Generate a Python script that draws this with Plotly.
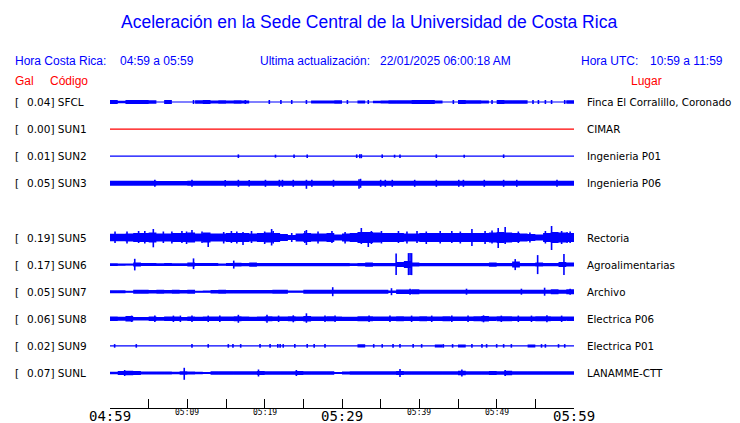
import plotly.graph_objects as go

# ---------------- data ----------------
TITLE = "Aceleración en la Sede Central de la Universidad de Costa Rica"
HDR_CR_LABEL = "Hora Costa Rica:"
HDR_CR_VALUE = "04:59 a 05:59"
HDR_UPD_LABEL = "Ultima actualización:"
HDR_UPD_VALUE = "22/01/2025 06:00:18 AM"
HDR_UTC_LABEL = "Hora UTC:"
HDR_UTC_VALUE = "10:59 a 11:59"
COL_GAL = "Gal"
COL_CODE = "Código"
COL_PLACE = "Lugar"

CODES = ["SFCL", "SUN1", "SUN2", "SUN3", "SUN5", "SUN6", "SUN7", "SUN8", "SUN9", "SUNL"]
ROWS = [0, 1, 2, 3, 5, 6, 7, 8, 9, 10]
GAL = ["0.04", "0.00", "0.01", "0.05", "0.19", "0.17", "0.05", "0.06", "0.02", "0.07"]
PLACES = ["Finca El Corralillo, Coronado", "CIMAR", "Ingenieria P01", "Ingenieria P06",
          "Rectoria", "Agroalimentarias", "Archivo", "Electrica P06", "Electrica P01",
          "LANAMME-CTT"]
TRACE_COLORS = ["#0000ff", "#ff0000", "#0000ff", "#0000ff", "#0000ff", "#0000ff",
                "#0000ff", "#0000ff", "#0000ff", "#0000ff"]

# minutes after 04:59
TICK_MIN = [0, 5, 10, 15, 20, 25, 30, 35, 40, 45, 50, 55, 60]
BIG_LABEL_MIN = [0, 30, 60]
BIG_LABELS = ["04:59", "05:29", "05:59"]
SMALL_LABEL_MIN = [10, 20, 40, 50]
SMALL_LABELS = ["05:09", "05:19", "05:39", "05:49"]

# envelope half-amplitude per 1-minute bin (screen pixels)
SFCL_ENV = [1.5, 0.8, 1.5, 1.5, 1.5, 1.2, 0, 1.5, 0, 0,
            0, 1.2, 1.5, 1.0, 1.2, 1.0, 1.2, 1.0, 0, 0,
            0, 0, 0, 0, 0, 0, 1.0, 1.0, 1.0, 1.2,
            0, 0, 1.0, 0, 0.8, 1.0, 1.2, 1.2, 1.2, 1.5,
            1.5, 1.5, 1.0, 0, 0, 1.5, 1.2, 1.2, 1.0, 0,
            1.5, 1.2, 1.2, 1.2, 0, 0, 0, 0, 0, 1.2]
SUN1_ENV = [0, 0, 0, 0, 0, 0, 0, 0, 0, 0,
            0, 0, 0, 0, 0, 0, 0, 0, 0, 0,
            0, 0, 0, 0, 0, 0, 0, 0, 0, 0,
            0, 0, 0, 0, 0, 0, 0, 0, 0, 0,
            0, 0, 0, 0, 0, 0, 0, 0, 0, 0,
            0, 0, 0, 0, 0, 0, 0, 0, 0, 0]
SUN2_ENV = [0, 0, 0, 0, 0, 0, 0, 0, 0, 0,
            0, 0, 0, 0, 0, 0, 0, 0, 0, 0,
            0, 0, 0, 0, 0, 0, 0, 0, 0, 0,
            0, 0, 0, 0, 0, 0, 0, 0, 0, 0,
            0, 0, 0, 0, 0, 0, 0, 0, 0, 0,
            0, 0, 0, 0, 0, 0, 0, 0, 0, 0]
SUN3_ENV = [2.0, 2.0, 2.0, 2.0, 2.0, 2.0, 1.7, 1.7, 1.7, 1.7,
            2.0, 2.0, 2.0, 2.0, 2.0, 2.0, 2.0, 2.0, 2.0, 2.0,
            2.0, 2.0, 2.0, 2.0, 2.0, 2.0, 2.0, 2.0, 2.0, 2.0,
            2.0, 2.0, 2.0, 2.0, 2.0, 2.0, 2.0, 2.0, 2.0, 2.0,
            2.0, 2.0, 2.0, 2.0, 2.0, 2.0, 2.0, 2.0, 2.0, 2.0,
            2.0, 2.0, 2.0, 2.0, 2.0, 2.0, 2.0, 2.0, 2.0, 2.0]
SUN5_ENV = [3.3, 3.3, 3.5, 4.0, 4.0, 4.5, 3.5, 3.5, 4.0, 4.0,
            4.5, 3.5, 4.5, 3.5, 3.5, 4.0, 4.0, 4.0, 3.5, 4.0,
            4.5, 4.0, 3.0, 2.0, 3.5, 4.0, 3.5, 3.5, 4.0, 2.5,
            3.5, 4.0, 5.0, 5.0, 4.5, 4.0, 4.0, 4.0, 3.5, 3.5,
            4.0, 4.0, 4.0, 4.0, 4.0, 4.0, 4.0, 4.0, 4.0, 4.5,
            5.0, 4.5, 4.0, 3.5, 3.0, 2.5, 4.0, 5.0, 4.5, 4.0]
SUN6_ENV = [0.8, 0.6, 0.5, 1.5, 1.0, 1.0, 0.8, 1.0, 0.8, 0.8,
            1.5, 1.0, 1.0, 1.0, 0.6, 1.0, 1.3, 1.2, 1.6, 1.2,
            1.2, 1.2, 1.2, 1.2, 1.2, 1.2, 1.2, 1.2, 1.2, 1.2,
            1.2, 0.8, 1.2, 1.6, 1.2, 1.2, 1.2, 2.0, 3.0, 1.5,
            1.2, 1.2, 1.2, 1.2, 1.2, 1.2, 1.2, 1.2, 1.2, 1.6,
            1.2, 1.2, 2.5, 1.2, 1.2, 1.5, 1.2, 1.2, 2.0, 1.5]
SUN7_ENV = [1.0, 1.0, 0.5, 1.5, 1.5, 1.2, 1.5, 1.2, 1.5, 1.2,
            1.5, 0.5, 0.6, 1.2, 1.5, 1.2, 1.2, 1.3, 1.2, 1.2,
            1.2, 1.5, 1.5, 0.6, 0.6, 1.5, 1.5, 1.5, 1.5, 1.5,
            1.5, 1.5, 1.5, 1.5, 1.5, 1.5, 0.8, 1.8, 1.8, 2.0,
            1.5, 1.5, 1.5, 1.5, 1.5, 1.5, 1.5, 1.5, 1.5, 1.5,
            1.5, 1.5, 1.5, 1.5, 1.5, 1.5, 1.5, 2.0, 1.5, 2.0]
SUN8_ENV = [1.7, 1.5, 2.2, 1.3, 1.3, 1.8, 1.4, 1.7, 1.8, 1.4,
            1.8, 1.6, 1.8, 1.7, 1.8, 1.7, 2.0, 1.8, 1.6, 1.8,
            2.0, 1.7, 1.8, 2.0, 1.8, 2.2, 1.7, 1.8, 2.0, 1.8,
            1.6, 1.6, 2.0, 2.0, 1.8, 1.8, 1.8, 2.0, 1.8, 1.8,
            2.0, 1.8, 1.8, 2.0, 1.8, 1.8, 1.8, 2.0, 2.2, 1.8,
            2.0, 2.0, 1.8, 1.8, 1.8, 2.0, 2.0, 1.8, 1.8, 1.8]
SUN9_ENV = [0, 0, 0, 0, 0, 0, 0, 0, 0, 0,
            0, 0, 0, 0, 0, 0, 0, 0, 0, 0,
            0, 0, 0, 0, 0, 0, 0, 0, 0, 0,
            0, 0, 1.2, 0, 0, 0, 0, 0, 0, 0,
            0, 0, 1.0, 0, 0, 1.0, 0, 0, 0, 0,
            0, 0, 0, 0, 1.0, 0, 0, 0, 0, 0]
SUNL_ENV = [0.8, 1.5, 1.7, 1.5, 1.0, 1.0, 1.0, 1.0, 0.8, 1.2,
            1.0, 0.8, 0.5, 1.3, 1.3, 1.3, 1.3, 1.3, 1.3, 1.5,
            1.3, 1.3, 1.3, 1.3, 1.6, 1.3, 1.3, 1.3, 1.3, 0.6,
            1.0, 1.2, 1.3, 1.2, 1.3, 1.2, 1.3, 1.6, 1.3, 1.3,
            1.3, 1.3, 1.3, 1.3, 1.3, 1.8, 1.3, 1.3, 1.3, 1.6,
            1.3, 1.8, 1.3, 1.3, 1.3, 1.3, 1.3, 1.3, 1.3, 1.3]

# spikes: (minute, up px, down px)
SFCL_SPK = [(10.8, 1.5, 1.5), (17.5, 1.5, 1.5), (20.6, 1.5, 1.5), (22.1, 1.5, 1.5),
            (23.5, 1.5, 1.5), (25.4, 1.5, 1.5), (30.7, 1.5, 1.5), (33.4, 1.5, 1.5),
            (44.4, 1.5, 1.5), (49.4, 1.5, 1.5), (54.7, 1.5, 1.5), (55.4, 1.5, 1.5),
            (56.3, 1.5, 1.5), (57.1, 1.5, 1.5), (58.8, 1.5, 1.5)]
SUN1_SPK = []
SUN2_SPK = [(16.6, 1.3, 1.3), (21.4, 1.0, 1.0), (23.8, 1.3, 1.3), (25.5, 1.3, 1.3),
            (31.9, 1.3, 1.3), (32.3, 1.5, 1.5), (32.5, 1.5, 1.5), (35.2, 1.3, 1.3),
            (36.8, 1.0, 1.0), (37.5, 1.3, 1.3), (42.2, 1.3, 1.3), (45.8, 1.0, 1.0),
            (50.9, 1.3, 1.3)]
SUN3_SPK = [(5.8, 3, 3), (10.6, 3, 3), (14.9, 2.8, 2.8), (16.6, 3, 3), (18.0, 2.8, 2.8),
            (20.1, 3, 3), (21.9, 3, 3), (22.3, 3, 3), (23.7, 3, 3), (25.4, 3, 5),
            (26.1, 3, 3), (28.9, 3, 3), (32.2, 3.5, 5), (32.4, 4, 4), (35.0, 3, 3),
            (35.6, 3, 3), (36.5, 3, 3), (39.4, 3, 3), (42.2, 3, 3), (45.1, 3, 3),
            (45.7, 3, 3), (48.4, 3, 3), (50.9, 3, 3), (52.6, 3, 3), (57.8, 3, 3)]
SUN5_SPK = [(5.6, 8, 9.3), (10.6, 7, 4), (12.7, 4, 9), (17.2, 5, 7), (20.9, 8, 7.5),
            (25.4, 7, 7), (32.5, 9, 6), (33.4, 4, 9), (46.8, 8, 8), (50.2, 9, 10),
            (51.1, 10, 6), (57.1, 11, 12), (59.1, 5, 5),
            (0.65, 5.5, 5), (2.2, 5.5, 5.5), (3.7, 6, 5), (4.5, 6, 5.5), (6.9, 5.5, 5),
            (8.0, 5.5, 5.5), (9.3, 6, 5), (9.9, 5.5, 6), (11.9, 5.5, 5), (14.7, 5, 5.5),
            (15.7, 6, 5), (16.4, 5.5, 5.5), (18.3, 6, 5), (20.0, 5.5, 6), (21.1, 6, 5.5),
            (23.5, 4, 4), (25.2, 6, 5), (26.9, 5.5, 5.5), (28.7, 6, 5), (30.4, 5, 5.5),
            (33.8, 6, 6), (35.1, 6, 5.5), (37.3, 6, 5), (38.4, 5.5, 5.5), (39.7, 6, 5),
            (40.9, 5.5, 6), (42.7, 6, 5.5), (44.2, 6, 5), (45.3, 5.5, 5.5), (48.5, 6, 6),
            (49.4, 6.5, 5.5), (52.8, 5.5, 5), (54.3, 4.5, 4.5), (56.3, 6, 5.5),
            (58.4, 6, 6), (59.5, 5.5, 5)]
SUN6_SPK = [(3.2, 5.3, 5.3), (10.8, 5.7, 4), (16.0, 3.5, 3.5), (37.0, 10.5, 10),
            (38.6, 11, 10), (38.8, 11, 10), (39.0, 11, 10), (52.4, 5, 5),
            (55.3, 9, 9), (58.7, 10, 10)]
SUN7_SPK = [(28.8, 4, 4), (36.4, 3, 3), (38.8, 2.5, 2.5), (46.1, 2.5, 2.5),
            (53.2, 2.5, 2.5), (56.2, 3.5, 3.5), (59.5, 2.5, 2.5)]
SUN8_SPK = [(16.6, 3.5, 3.5), (20.3, 3.5, 3.5), (23.7, 3, 3), (25.4, 5, 3.5),
            (48.3, 3, 3), (56.5, 3, 3),
            (2.8, 2.7, 2.7), (5.8, 2.7, 2.7), (8.2, 2.7, 2.7), (9.1, 2.7, 2.7),
            (10.6, 2.7, 2.7), (12.7, 2.7, 2.7), (14.2, 2.7, 2.7), (21.8, 2.7, 2.7),
            (27.8, 2.7, 2.7), (29.1, 2.7, 2.7), (33.5, 2.7, 2.7), (36.2, 2.7, 2.7),
            (39.0, 2.7, 2.7), (41.6, 2.7, 2.7), (44.2, 2.7, 2.7), (46.3, 2.7, 2.7),
            (50.6, 2.7, 2.7), (52.8, 2.7, 2.7), (54.5, 2.7, 2.7), (58.4, 2.7, 2.7)]
SUN9_SPK = [(0.6, 1.3, 1.3), (3.4, 1.3, 1.3), (10.6, 1.3, 1.3), (12.7, 1.3, 1.3),
            (15.3, 1.3, 1.3), (15.9, 1.3, 1.3), (16.9, 1.3, 1.3), (19.4, 1.3, 1.3),
            (20.7, 1.3, 1.3), (21.7, 1.3, 1.3), (22.0, 1.3, 1.3), (22.4, 1.3, 1.3),
            (23.9, 1.3, 1.3), (25.5, 1.3, 1.3), (26.4, 1.3, 1.3), (27.8, 1.3, 1.3),
            (34.1, 1.3, 1.3), (35.2, 1.3, 1.3), (36.6, 1.3, 1.3), (37.5, 1.3, 1.3),
            (39.2, 1.3, 1.3), (40.3, 1.3, 1.3), (43.1, 1.3, 1.3), (44.3, 1.3, 1.3),
            (46.8, 1.3, 1.3), (48.1, 1.3, 1.3), (48.7, 1.3, 1.3), (50.0, 1.3, 1.3),
            (50.9, 1.3, 1.3), (51.9, 1.3, 1.3), (55.8, 1.3, 1.3), (56.3, 1.3, 1.3),
            (58.0, 1.3, 1.3), (58.8, 1.3, 1.3)]
SUNL_SPK = [(1.9, 2.5, 2.5), (9.6, 4.7, 6.3), (19.2, 3, 3), (24.1, 2.5, 2.5),
            (37.5, 3.5, 3.5), (45.5, 3, 3), (51.1, 2.5, 2.5)]

ENVS = [SFCL_ENV, SUN1_ENV, SUN2_ENV, SUN3_ENV, SUN5_ENV, SUN6_ENV, SUN7_ENV,
        SUN8_ENV, SUN9_ENV, SUNL_ENV]
SPIKES = [SFCL_SPK, SUN1_SPK, SUN2_SPK, SUN3_SPK, SUN5_SPK, SUN6_SPK, SUN7_SPK,
          SUN8_SPK, SUN9_SPK, SUNL_SPK]

# ---------------- layout geometry (px) ----------------
W, H = 740, 423
PL, PR = 110, 574          # plot left/right px
PT, PB = 88, 408           # plot top/bottom px
ROW0_PX = 102
ROW_PX = 27.1
PEN_PX = 0.5               # half a pixel of pen thickness around each envelope
Y_TOP = (PT - ROW0_PX) / ROW_PX
Y_BOT = (PB - ROW0_PX) / ROW_PX


def px_x(px):
    return (px - PL) / (PR - PL)


def px_y(py):
    return (PB - py) / (PB - PT)


BLUE = "#0000ff"
RED = "#ff0000"
HDR_FONT = "Liberation Sans, Arial, sans-serif"
LBL_FONT = "DejaVu Sans, sans-serif"
MONO_FONT = "DejaVu Sans Mono, monospace"

fig = go.Figure()

for row, env, spk, col in zip(ROWS, ENVS, SPIKES, TRACE_COLORS):
    # envelope band: one rectangle per non-empty minute bin
    bx, by = [], []
    for k, a in enumerate(env):
        if a > 0:
            d = (a + PEN_PX) / ROW_PX
            bx += [k, k + 1, k + 1, k, k, None]
            by += [row - d, row - d, row + d, row + d, row - d, None]
    if bx:
        fig.add_trace(go.Scatter(x=bx, y=by, mode="lines",
                                 fill="toself", fillcolor=col,
                                 line=dict(width=0, color=col, simplify=False),
                                 hoverinfo="skip", showlegend=False))
    # baseline
    fig.add_trace(go.Scatter(x=[0, 60], y=[row, row], mode="lines",
                             line=dict(color=col, width=1.2), hoverinfo="skip",
                             showlegend=False))
    # spikes
    if spk:
        sx, sy = [], []
        for m, up, dn in spk:
            sx += [m, m, None]
            sy += [row - (up + PEN_PX) / ROW_PX, row + (dn + PEN_PX) / ROW_PX, None]
        fig.add_trace(go.Scatter(x=sx, y=sy, mode="lines",
                                 line=dict(color=col, width=1.6, simplify=False),
                                 hoverinfo="skip", showlegend=False))

ann = []


def add_text(text, x, y, size, color, family, xanchor="left", yref="paper", xref="paper"):
    ann.append(dict(text=text, x=x, y=y, xref=xref, yref=yref, showarrow=False,
                    xanchor=xanchor, yanchor="middle", borderpad=0, borderwidth=0,
                    font=dict(size=size, color=color, family=family)))


# title and headers
add_text(TITLE, px_x(369), px_y(22), 17.5, BLUE, HDR_FONT, xanchor="center")
add_text(HDR_CR_LABEL, px_x(15), px_y(61), 12, BLUE, HDR_FONT)
add_text(HDR_CR_VALUE, px_x(120), px_y(61), 12, BLUE, HDR_FONT)
add_text(HDR_UPD_LABEL, px_x(260), px_y(61), 12, BLUE, HDR_FONT)
add_text(HDR_UPD_VALUE, px_x(380), px_y(61), 12, BLUE, HDR_FONT)
add_text(HDR_UTC_LABEL, px_x(581), px_y(61), 12, BLUE, HDR_FONT)
add_text(HDR_UTC_VALUE, px_x(650), px_y(61), 12, BLUE, HDR_FONT)
add_text(COL_GAL, px_x(15), px_y(81), 12, RED, HDR_FONT)
add_text(COL_CODE, px_x(50), px_y(81), 12, RED, HDR_FONT)
add_text(COL_PLACE, px_x(631), px_y(81), 12, RED, HDR_FONT)

# station labels
for row, g, c, p in zip(ROWS, GAL, CODES, PLACES):
    add_text("[", px_x(15), row, 10.5, "black", LBL_FONT, yref="y")
    add_text(f"{g}] {c}", px_x(27), row, 10.5, "black", LBL_FONT, yref="y")
    add_text(p, px_x(587), row, 10.3, "black", LBL_FONT, yref="y")

# time labels
for m, t in zip(BIG_LABEL_MIN, BIG_LABELS):
    add_text(t, m, px_y(416), 14, "black", MONO_FONT, xanchor="center", xref="x")
for m, t in zip(SMALL_LABEL_MIN, SMALL_LABELS):
    add_text(t, m, px_y(412), 8, "black", MONO_FONT, xanchor="center", xref="x")

fig.update_layout(
    width=W, height=H,
    margin=dict(l=PL, r=W - PR, t=PT, b=H - PB, pad=0),
    paper_bgcolor="white", plot_bgcolor="white",
    showlegend=False,
    annotations=ann,
    xaxis=dict(range=[0, 60], tickvals=TICK_MIN, showticklabels=False,
               ticks="inside", ticklen=9, tickcolor="black", tickwidth=1,
               showline=True, linecolor="black", linewidth=1,
               showgrid=False, zeroline=False, fixedrange=True),
    yaxis=dict(range=[Y_BOT, Y_TOP], visible=False, showgrid=False,
               zeroline=False, fixedrange=True),
)

# remove the default 8px page margin so the figure sits at the window's corner
POST_JS = ("document.body.style.margin='0';document.body.style.padding='0';"
           "document.body.style.overflow='hidden';")
fig.write_html("out.html", config={"displayModeBar": False}, post_script=POST_JS)
